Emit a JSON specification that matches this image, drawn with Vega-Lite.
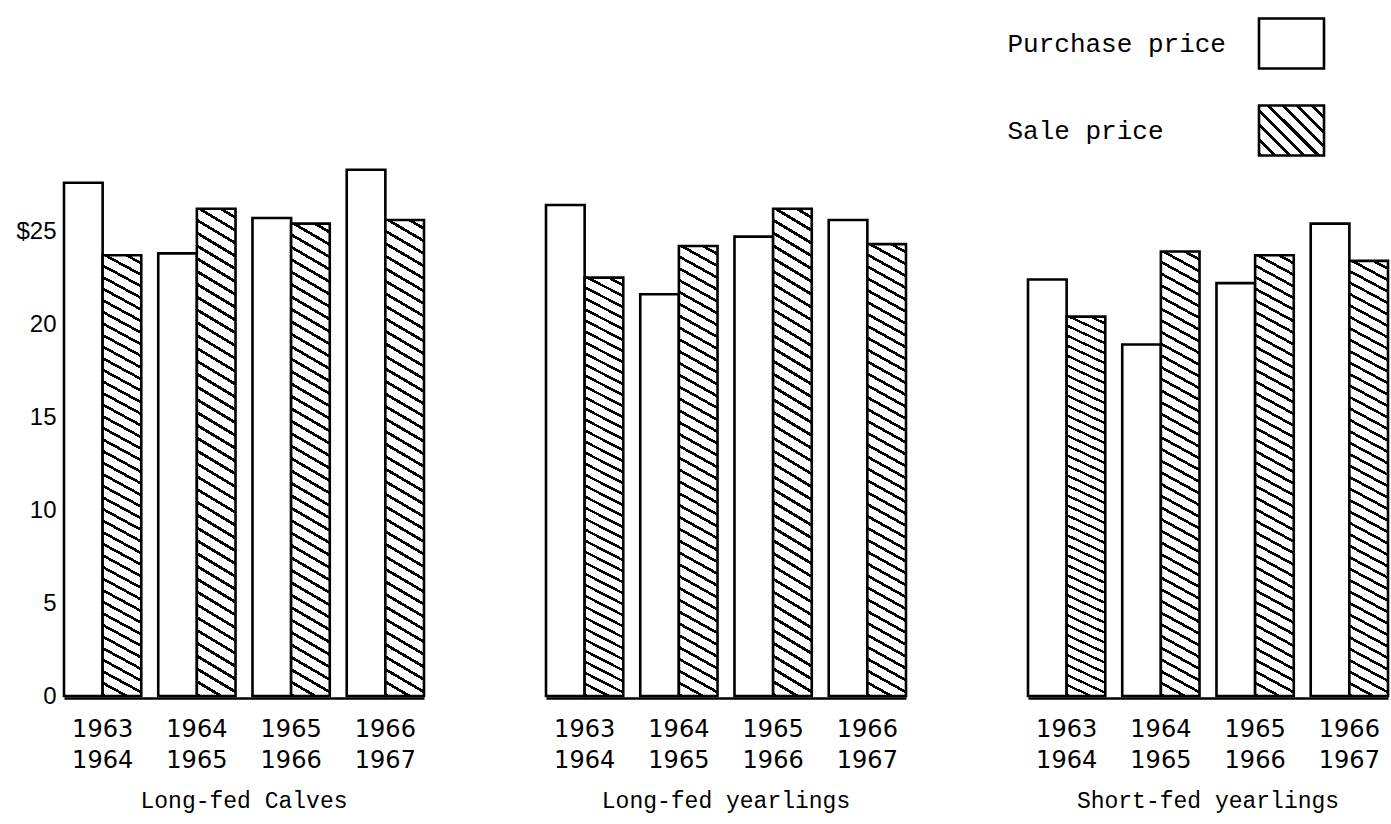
{
  "$schema": "https://vega.github.io/schema/vega-lite/v6.json",
  "background": "white",
  "padding": {"left": 15, "top": 17, "right": 0, "bottom": 15},
  "config": {
    "view": {"stroke": null},
    "axisX": {"labelExpr": "split(datum.label, '-')", "labelAngle": 0, "labelFont": "DejaVu Sans", "labelFontSize": 24, "labelColor": "black", "labelPadding": 19, "labelLineHeight": 31, "ticks": false, "tickSize": 0, "domainColor": "black", "domainWidth": 2.5, "grid": false},
    "axisY": {"labelFont": "Liberation Sans", "labelFontSize": 24, "labelColor": "black", "labelPadding": 6, "ticks": false, "tickSize": 0, "domain": false, "grid": false}
  },
  "data": {"values": [
    {"group": "Long-fed Calves", "period": "1963-1964", "type": "Purchase price", "price": 27.6},
    {"group": "Long-fed Calves", "period": "1963-1964", "type": "Sale price", "price": 23.7},
    {"group": "Long-fed Calves", "period": "1964-1965", "type": "Purchase price", "price": 23.8},
    {"group": "Long-fed Calves", "period": "1964-1965", "type": "Sale price", "price": 26.2},
    {"group": "Long-fed Calves", "period": "1965-1966", "type": "Purchase price", "price": 25.7},
    {"group": "Long-fed Calves", "period": "1965-1966", "type": "Sale price", "price": 25.4},
    {"group": "Long-fed Calves", "period": "1966-1967", "type": "Purchase price", "price": 28.3},
    {"group": "Long-fed Calves", "period": "1966-1967", "type": "Sale price", "price": 25.6},
    {"group": "Long-fed yearlings", "period": "1963-1964", "type": "Purchase price", "price": 26.4},
    {"group": "Long-fed yearlings", "period": "1963-1964", "type": "Sale price", "price": 22.5},
    {"group": "Long-fed yearlings", "period": "1964-1965", "type": "Purchase price", "price": 21.6},
    {"group": "Long-fed yearlings", "period": "1964-1965", "type": "Sale price", "price": 24.2},
    {"group": "Long-fed yearlings", "period": "1965-1966", "type": "Purchase price", "price": 24.7},
    {"group": "Long-fed yearlings", "period": "1965-1966", "type": "Sale price", "price": 26.2},
    {"group": "Long-fed yearlings", "period": "1966-1967", "type": "Purchase price", "price": 25.6},
    {"group": "Long-fed yearlings", "period": "1966-1967", "type": "Sale price", "price": 24.3},
    {"group": "Short-fed yearlings", "period": "1963-1964", "type": "Purchase price", "price": 22.4},
    {"group": "Short-fed yearlings", "period": "1963-1964", "type": "Sale price", "price": 20.4},
    {"group": "Short-fed yearlings", "period": "1964-1965", "type": "Purchase price", "price": 18.9},
    {"group": "Short-fed yearlings", "period": "1964-1965", "type": "Sale price", "price": 23.9},
    {"group": "Short-fed yearlings", "period": "1965-1966", "type": "Purchase price", "price": 22.2},
    {"group": "Short-fed yearlings", "period": "1965-1966", "type": "Sale price", "price": 23.7},
    {"group": "Short-fed yearlings", "period": "1966-1967", "type": "Purchase price", "price": 25.4},
    {"group": "Short-fed yearlings", "period": "1966-1967", "type": "Sale price", "price": 23.4}
  ]},
  "facet": {"column": {"field": "group", "type": "nominal", "sort": ["Long-fed Calves", "Long-fed yearlings", "Short-fed yearlings"], "header": {"title": null, "labelOrient": "bottom", "labelFont": "Liberation Mono", "labelFontSize": 23, "labelColor": "black", "labelPadding": 18}}},
  "spacing": {"column": 118},
  "spec": {
    "width": 360,
    "height": 530,
    "layer": [
      {
        "mark": {"type": "bar", "stroke": "black", "strokeWidth": 2.6},
        "encoding": {
          "x": {"field": "period", "type": "nominal", "sort": null, "scale": {"paddingInner": 0.18, "paddingOuter": 0}, "axis": {"title": null}},
          "xOffset": {"field": "type", "type": "nominal", "scale": {"paddingInner": 0, "paddingOuter": 0}},
          "y": {"field": "price", "type": "quantitative", "stack": null, "scale": {"domain": [0, 28.5], "nice": false}, "axis": {"title": null, "values": [0, 5, 10, 15, 20, 25], "labelExpr": "datum.value === 25 ? '$25' : datum.label", "labelFlush": false, "labelOverlap": false}},
          "fill": {"condition": {"test": "datum.type === 'Sale price'", "value": {"gradient": "linear", "x1": 0, "y1": 1, "x2": 0.05, "y2": -0.05, "stops": [
            {"offset": 0, "color": "#000"}, {"offset": 0.0065, "color": "#000"}, {"offset": 0.0065, "color": "#fff"}, {"offset": 0.025, "color": "#fff"},
            {"offset": 0.025, "color": "#000"}, {"offset": 0.0315, "color": "#000"}, {"offset": 0.0315, "color": "#fff"}, {"offset": 0.05, "color": "#fff"},
            {"offset": 0.05, "color": "#000"}, {"offset": 0.0565, "color": "#000"}, {"offset": 0.0565, "color": "#fff"}, {"offset": 0.075, "color": "#fff"},
            {"offset": 0.075, "color": "#000"}, {"offset": 0.0815, "color": "#000"}, {"offset": 0.0815, "color": "#fff"}, {"offset": 0.1, "color": "#fff"},
            {"offset": 0.1, "color": "#000"}, {"offset": 0.1065, "color": "#000"}, {"offset": 0.1065, "color": "#fff"}, {"offset": 0.125, "color": "#fff"},
            {"offset": 0.125, "color": "#000"}, {"offset": 0.1315, "color": "#000"}, {"offset": 0.1315, "color": "#fff"}, {"offset": 0.15, "color": "#fff"},
            {"offset": 0.15, "color": "#000"}, {"offset": 0.1565, "color": "#000"}, {"offset": 0.1565, "color": "#fff"}, {"offset": 0.175, "color": "#fff"},
            {"offset": 0.175, "color": "#000"}, {"offset": 0.1815, "color": "#000"}, {"offset": 0.1815, "color": "#fff"}, {"offset": 0.2, "color": "#fff"},
            {"offset": 0.2, "color": "#000"}, {"offset": 0.2065, "color": "#000"}, {"offset": 0.2065, "color": "#fff"}, {"offset": 0.225, "color": "#fff"},
            {"offset": 0.225, "color": "#000"}, {"offset": 0.2315, "color": "#000"}, {"offset": 0.2315, "color": "#fff"}, {"offset": 0.25, "color": "#fff"},
            {"offset": 0.25, "color": "#000"}, {"offset": 0.2565, "color": "#000"}, {"offset": 0.2565, "color": "#fff"}, {"offset": 0.275, "color": "#fff"},
            {"offset": 0.275, "color": "#000"}, {"offset": 0.2815, "color": "#000"}, {"offset": 0.2815, "color": "#fff"}, {"offset": 0.3, "color": "#fff"},
            {"offset": 0.3, "color": "#000"}, {"offset": 0.3065, "color": "#000"}, {"offset": 0.3065, "color": "#fff"}, {"offset": 0.325, "color": "#fff"},
            {"offset": 0.325, "color": "#000"}, {"offset": 0.3315, "color": "#000"}, {"offset": 0.3315, "color": "#fff"}, {"offset": 0.35, "color": "#fff"},
            {"offset": 0.35, "color": "#000"}, {"offset": 0.3565, "color": "#000"}, {"offset": 0.3565, "color": "#fff"}, {"offset": 0.375, "color": "#fff"},
            {"offset": 0.375, "color": "#000"}, {"offset": 0.3815, "color": "#000"}, {"offset": 0.3815, "color": "#fff"}, {"offset": 0.4, "color": "#fff"},
            {"offset": 0.4, "color": "#000"}, {"offset": 0.4065, "color": "#000"}, {"offset": 0.4065, "color": "#fff"}, {"offset": 0.425, "color": "#fff"},
            {"offset": 0.425, "color": "#000"}, {"offset": 0.4315, "color": "#000"}, {"offset": 0.4315, "color": "#fff"}, {"offset": 0.45, "color": "#fff"},
            {"offset": 0.45, "color": "#000"}, {"offset": 0.4565, "color": "#000"}, {"offset": 0.4565, "color": "#fff"}, {"offset": 0.475, "color": "#fff"},
            {"offset": 0.475, "color": "#000"}, {"offset": 0.4815, "color": "#000"}, {"offset": 0.4815, "color": "#fff"}, {"offset": 0.5, "color": "#fff"},
            {"offset": 0.5, "color": "#000"}, {"offset": 0.5065, "color": "#000"}, {"offset": 0.5065, "color": "#fff"}, {"offset": 0.525, "color": "#fff"},
            {"offset": 0.525, "color": "#000"}, {"offset": 0.5315, "color": "#000"}, {"offset": 0.5315, "color": "#fff"}, {"offset": 0.55, "color": "#fff"},
            {"offset": 0.55, "color": "#000"}, {"offset": 0.5565, "color": "#000"}, {"offset": 0.5565, "color": "#fff"}, {"offset": 0.575, "color": "#fff"},
            {"offset": 0.575, "color": "#000"}, {"offset": 0.5815, "color": "#000"}, {"offset": 0.5815, "color": "#fff"}, {"offset": 0.6, "color": "#fff"},
            {"offset": 0.6, "color": "#000"}, {"offset": 0.6065, "color": "#000"}, {"offset": 0.6065, "color": "#fff"}, {"offset": 0.625, "color": "#fff"},
            {"offset": 0.625, "color": "#000"}, {"offset": 0.6315, "color": "#000"}, {"offset": 0.6315, "color": "#fff"}, {"offset": 0.65, "color": "#fff"},
            {"offset": 0.65, "color": "#000"}, {"offset": 0.6565, "color": "#000"}, {"offset": 0.6565, "color": "#fff"}, {"offset": 0.675, "color": "#fff"},
            {"offset": 0.675, "color": "#000"}, {"offset": 0.6815, "color": "#000"}, {"offset": 0.6815, "color": "#fff"}, {"offset": 0.7, "color": "#fff"},
            {"offset": 0.7, "color": "#000"}, {"offset": 0.7065, "color": "#000"}, {"offset": 0.7065, "color": "#fff"}, {"offset": 0.725, "color": "#fff"},
            {"offset": 0.725, "color": "#000"}, {"offset": 0.7315, "color": "#000"}, {"offset": 0.7315, "color": "#fff"}, {"offset": 0.75, "color": "#fff"},
            {"offset": 0.75, "color": "#000"}, {"offset": 0.7565, "color": "#000"}, {"offset": 0.7565, "color": "#fff"}, {"offset": 0.775, "color": "#fff"},
            {"offset": 0.775, "color": "#000"}, {"offset": 0.7815, "color": "#000"}, {"offset": 0.7815, "color": "#fff"}, {"offset": 0.8, "color": "#fff"},
            {"offset": 0.8, "color": "#000"}, {"offset": 0.8065, "color": "#000"}, {"offset": 0.8065, "color": "#fff"}, {"offset": 0.825, "color": "#fff"},
            {"offset": 0.825, "color": "#000"}, {"offset": 0.8315, "color": "#000"}, {"offset": 0.8315, "color": "#fff"}, {"offset": 0.85, "color": "#fff"},
            {"offset": 0.85, "color": "#000"}, {"offset": 0.8565, "color": "#000"}, {"offset": 0.8565, "color": "#fff"}, {"offset": 0.875, "color": "#fff"},
            {"offset": 0.875, "color": "#000"}, {"offset": 0.8815, "color": "#000"}, {"offset": 0.8815, "color": "#fff"}, {"offset": 0.9, "color": "#fff"},
            {"offset": 0.9, "color": "#000"}, {"offset": 0.9065, "color": "#000"}, {"offset": 0.9065, "color": "#fff"}, {"offset": 0.925, "color": "#fff"},
            {"offset": 0.925, "color": "#000"}, {"offset": 0.9315, "color": "#000"}, {"offset": 0.9315, "color": "#fff"}, {"offset": 0.95, "color": "#fff"},
            {"offset": 0.95, "color": "#000"}, {"offset": 0.9565, "color": "#000"}, {"offset": 0.9565, "color": "#fff"}, {"offset": 0.975, "color": "#fff"},
            {"offset": 0.975, "color": "#000"}, {"offset": 0.9815, "color": "#000"}, {"offset": 0.9815, "color": "#fff"}, {"offset": 1, "color": "#fff"}
          ]}}, "value": "white"}
        }
      },
      {
        "mark": {"type": "text", "text": ""},
        "encoding": {
          "fill": {"field": "type", "type": "nominal", "scale": {"domain": ["Purchase price", "Sale price"], "range": ["white", {"expr": "{gradient: 'linear', x1: 0, y1: 1, x2: 1.111, y2: 0.145, stops: [{offset: 0, color: '#000'}, {offset: 0.035, color: '#000'}, {offset: 0.035, color: '#fff'}, {offset: 0.125, color: '#fff'}, {offset: 0.125, color: '#000'}, {offset: 0.16, color: '#000'}, {offset: 0.16, color: '#fff'}, {offset: 0.25, color: '#fff'}, {offset: 0.25, color: '#000'}, {offset: 0.285, color: '#000'}, {offset: 0.285, color: '#fff'}, {offset: 0.375, color: '#fff'}, {offset: 0.375, color: '#000'}, {offset: 0.41, color: '#000'}, {offset: 0.41, color: '#fff'}, {offset: 0.5, color: '#fff'}, {offset: 0.5, color: '#000'}, {offset: 0.535, color: '#000'}, {offset: 0.535, color: '#fff'}, {offset: 0.625, color: '#fff'}, {offset: 0.625, color: '#000'}, {offset: 0.66, color: '#000'}, {offset: 0.66, color: '#fff'}, {offset: 0.75, color: '#fff'}, {offset: 0.75, color: '#000'}, {offset: 0.785, color: '#000'}, {offset: 0.785, color: '#fff'}, {offset: 0.875, color: '#fff'}, {offset: 0.875, color: '#000'}, {offset: 0.91, color: '#000'}, {offset: 0.91, color: '#fff'}, {offset: 1, color: '#fff'}]}"}]},
            "legend": {"title": null, "orient": "none", "legendX": 1201, "legendY": -149, "direction": "vertical", "symbolType": "M-1.3,-1H1.3V1H-1.3Z", "symbolSize": 2500, "symbolOpacity": 1, "symbolStrokeWidth": 2.6, "symbolStrokeColor": "black", "labelFont": "Liberation Mono", "labelFontSize": 26, "labelColor": "black", "labelOffset": -310.5, "labelAlign": "left", "labelLimit": 500, "rowPadding": 26, "padding": 0}}
        }
      }
    ]
  }
}
